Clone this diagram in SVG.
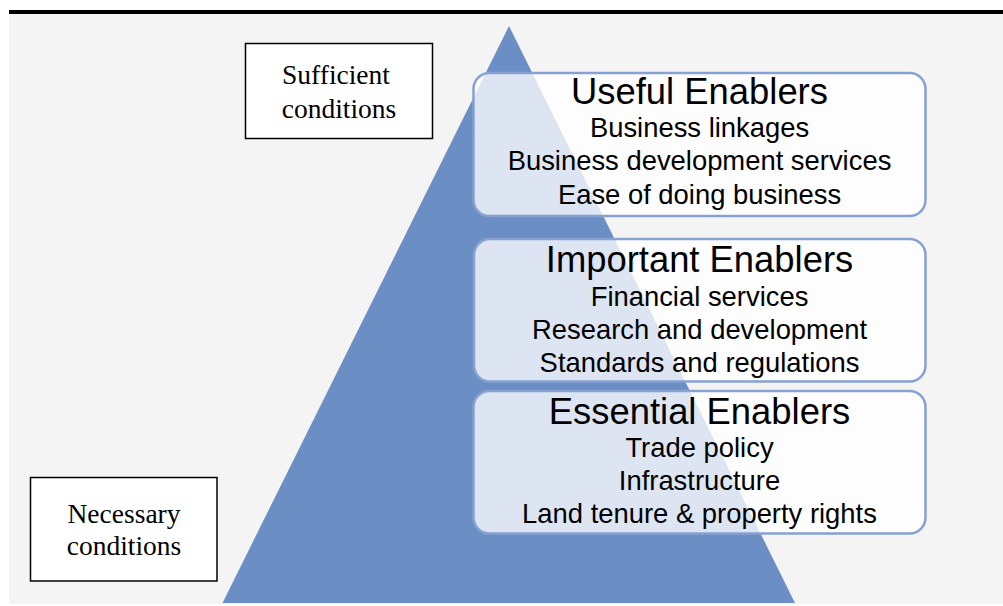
<svg xmlns="http://www.w3.org/2000/svg" width="1003" height="606" viewBox="0 0 1003 606">
<style>
.cond{fill:#ffffff;stroke:#000000;stroke-width:1.5}
.ct{font-family:"Liberation Serif","Times New Roman",serif;font-size:27.5px;fill:#000;text-anchor:middle}
.en{fill:#ffffff;fill-opacity:0.77;stroke:#87a1d2;stroke-width:2.5}
.title{font-family:"Liberation Sans",Arial,sans-serif;font-size:36.4px;fill:#000;text-anchor:middle}
.item{font-family:"Liberation Sans",Arial,sans-serif;font-size:27.4px;fill:#000;text-anchor:middle}
</style>
<rect x="0" y="0" width="1003" height="606" fill="#ffffff"/>
<rect x="9" y="14" width="994" height="590" fill="#f4f4f4"/>
<rect x="9" y="10" width="994" height="4" fill="#000000"/>
<g id="pyramid">
<polygon points="509,26 222.5,603 795,603" fill="#6b8fc5"/>
</g>
<g id="connectors"></g>
<g id="sufficient">
<rect class="cond" x="245.5" y="43.5" width="187" height="95"/>
<text class="ct" x="336" y="84">Sufficient</text>
<text class="ct" x="339" y="117.5">conditions</text>
</g>
<g id="necessary">
<rect class="cond" x="30.5" y="477.5" width="186.5" height="103.5"/>
<text class="ct" x="124" y="523">Necessary</text>
<text class="ct" x="124" y="555">conditions</text>
</g>
<g id="useful">
<rect class="en" x="473.5" y="73" width="452" height="143" rx="16"/>
<text class="title" x="699.5" y="104">Useful Enablers</text>
<text class="item" x="699.5" y="136.5">Business linkages</text>
<text class="item" x="699.5" y="170">Business development services</text>
<text class="item" x="699.5" y="203.5">Ease of doing business</text>
</g>
<g id="important">
<rect class="en" x="474" y="239" width="451.5" height="142.5" rx="16"/>
<text class="title" x="699.5" y="272.2">Important Enablers</text>
<text class="item" x="699.5" y="305.5">Financial services</text>
<text class="item" x="699.5" y="338.8">Research and development</text>
<text class="item" x="699.5" y="372.2">Standards and regulations</text>
</g>
<g id="essential">
<rect class="en" x="473.5" y="391" width="452" height="142.5" rx="16"/>
<text class="title" x="699.5" y="423.8">Essential Enablers</text>
<text class="item" x="699.5" y="457.2">Trade policy</text>
<text class="item" x="699.5" y="490">Infrastructure</text>
<text class="item" x="699.5" y="522.8">Land tenure &amp; property rights</text>
</g>
</svg>
